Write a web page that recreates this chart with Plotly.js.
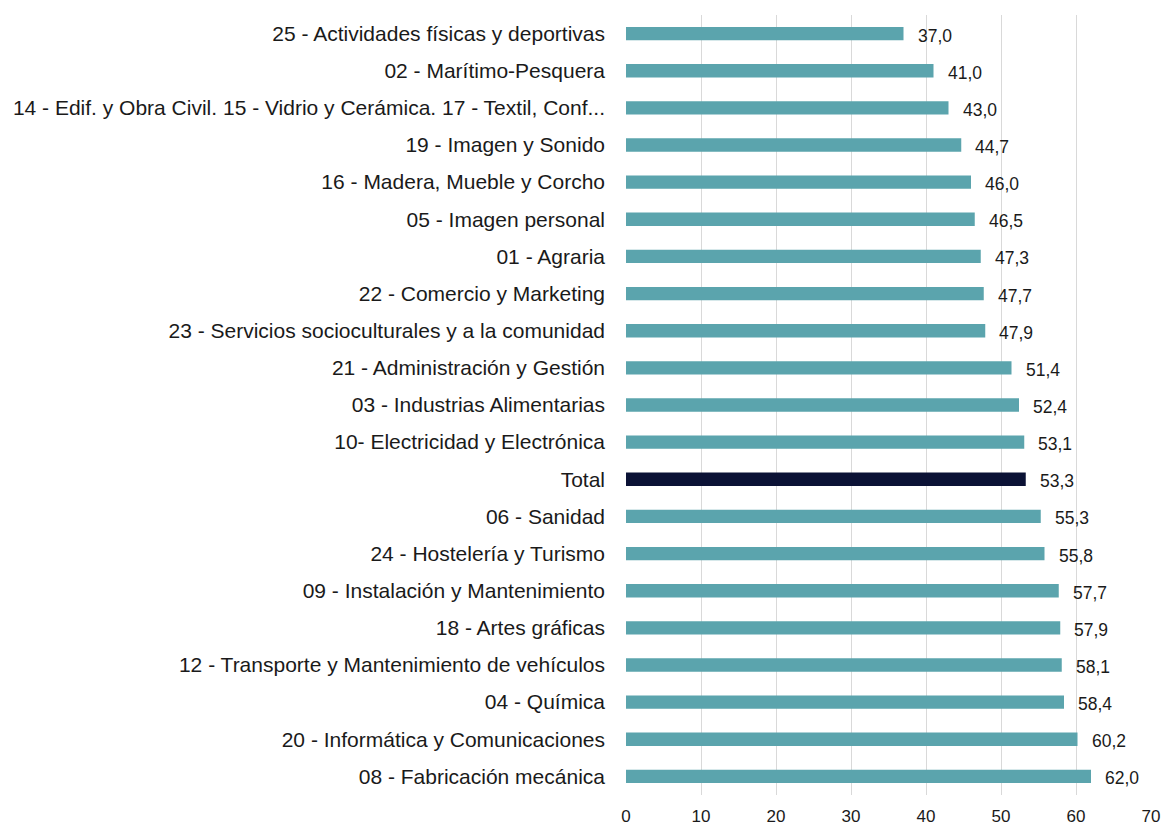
<!DOCTYPE html>
<html>
<head>
<meta charset="utf-8">
<script src="https://cdn.plot.ly/plotly-3.0.1.min.js"></script>
<style>html,body{margin:0;padding:0;background:#fff;}#chart{width:1163px;height:825px;}</style>
</head>
<body>
<div id="chart"></div>
<script>
const categories = [
  "25 - Actividades físicas y deportivas",
  "02 - Marítimo-Pesquera",
  "14 - Edif. y Obra Civil. 15 - Vidrio y Cerámica. 17 - Textil, Conf...",
  "19 - Imagen y Sonido",
  "16 - Madera, Mueble y Corcho",
  "05 - Imagen personal",
  "01 - Agraria",
  "22 - Comercio y Marketing",
  "23 - Servicios socioculturales y a la comunidad",
  "21 - Administración y Gestión",
  "03 - Industrias Alimentarias",
  "10- Electricidad y Electrónica",
  "Total",
  "06 - Sanidad",
  "24 - Hostelería y Turismo",
  "09 - Instalación y Mantenimiento",
  "18 - Artes gráficas",
  "12 - Transporte y Mantenimiento de vehículos",
  "04 - Química",
  "20 - Informática y Comunicaciones",
  "08 - Fabricación mecánica"
];
const values = [37.0, 41.0, 43.0, 44.7, 46.0, 46.5, 47.3, 47.7, 47.9, 51.4, 52.4, 53.1, 53.3, 55.3, 55.8, 57.7, 57.9, 58.1, 58.4, 60.2, 62.0];
const tickValues = [0, 10, 20, 30, 40, 50, 60, 70];

const teal = "#5BA4AD";
const dark = "#0B1235";
const colors = categories.map(c => c === "Total" ? dark : teal);

const trace = {
  type: "bar",
  orientation: "h",
  x: values,
  y: categories,
  marker: {color: colors, line: {width: 0}},
  width: 0.36,
  hoverinfo: "none"
};

const annotations = values.map((v, i) => ({
  x: v,
  y: categories[i],
  xref: "x",
  yref: "y",
  text: v.toFixed(1).replace(".", ","),
  showarrow: false,
  xanchor: "left",
  yanchor: "middle",
  xshift: 12,
  yshift: -2,
  font: {family: "Liberation Sans, Arial, sans-serif", size: 17.5, color: "#1a1a1a"}
}));

const layout = {
  width: 1163,
  height: 825,
  margin: {l: 626, r: 12, t: 15, b: 30},
  paper_bgcolor: "#ffffff",
  plot_bgcolor: "#ffffff",
  showlegend: false,
  font: {family: "Liberation Sans, Arial, sans-serif", color: "#1a1a1a"},
  xaxis: {
    range: [0, 70],
    tickvals: tickValues,
    ticktext: tickValues.map(String),
    showgrid: true,
    gridcolor: "#d9d9d9",
    gridwidth: 1,
    zeroline: false,
    showline: false,
    ticks: "",
    ticklabelstandoff: 9,
    tickfont: {size: 17, color: "#1a1a1a"},
    fixedrange: true
  },
  yaxis: {
    type: "category",
    autorange: "reversed",
    showgrid: false,
    zeroline: false,
    showline: false,
    ticks: "",
    ticklabelstandoff: 20,
    tickfont: {size: 21, color: "#1a1a1a"},
    automargin: false,
    fixedrange: true
  },
  annotations: annotations
};

Plotly.newPlot("chart", [trace], layout, {displayModeBar: false, staticPlot: true});
</script>
</body>
</html>
